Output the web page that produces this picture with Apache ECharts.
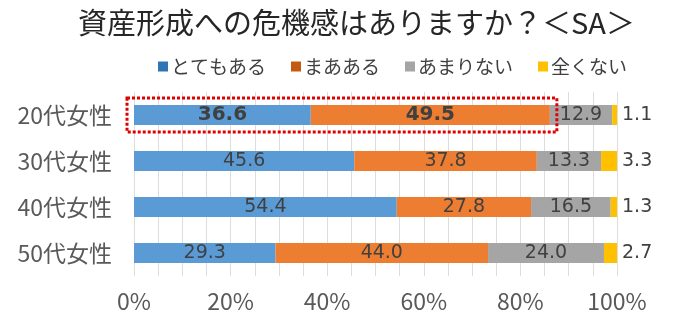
<!DOCTYPE html>
<html><head><meta charset="utf-8">
<script src="https://cdn.jsdelivr.net/npm/echarts@6/dist/echarts.min.js"></script>
<style>html,body{margin:0;padding:0;background:#fff}#c{width:680px;height:327px}</style>
</head><body><div id="c"></div>
<script>
const categories = ['20代女性', '30代女性', '40代女性', '50代女性'];
const seriesNames = ['とてもある', 'まあある', 'あまりない', '全くない'];
const veryMuch = [36.6, 45.6, 54.4, 29.3];
const somewhat = [49.5, 37.8, 27.8, 44.0];
const notMuch = [12.9, 13.3, 16.5, 24.0];
const notAtAll = [1.1, 3.3, 1.3, 2.7];
const tickLabels = ['0%', '20%', '40%', '60%', '80%', '100%'];

const font = '"Noto Sans CJK JP", "Noto Sans", sans-serif';
const numFont = '"DejaVu Sans", "Noto Sans", sans-serif';
const barColors = ['#5B9BD5', '#ED7D31', '#A5A5A5', '#FFC000'];
const legendColors = ['#2E75B6', '#C55A11', '#A5A5A5', '#FFC000'];
const values = [veryMuch, somewhat, notMuch, notAtAll];

const chart = echarts.init(document.getElementById('c'), null, {renderer: 'canvas'});

function labelFor(i) {
  return {
    show: true,
    position: i === 3 ? 'right' : 'inside',
    distance: 5,
    fontFamily: numFont,
    fontSize: 19,
    color: '#404040',
    formatter: p => p.value.toFixed(1)
  };
}

const series = seriesNames.map((name, i) => ({
  name: name,
  type: 'bar',
  stack: 'total',
  barWidth: 20,
  itemStyle: {color: barColors[i]},
  label: labelFor(i),
  data: values[i].map((v, j) => ({
    value: v,
    label: (j === 0 && i < 2) ? {fontWeight: 'bold', fontSize: 20} : {}
  }))
}));

chart.setOption({
  animation: false,
  title: {
    text: '資産形成への危機感はありますか？＜SA＞',
    left: 73, top: 3,
    textStyle: {fontFamily: font, fontSize: 29, fontWeight: 'normal', color: '#262626'}
  },
  legend: {
    top: 52, left: 153,
    itemWidth: 10, itemHeight: 10, itemGap: 25,
    icon: 'rect',
    textStyle: {fontFamily: font, fontSize: 19, color: '#404040', padding: [0, 0, 0, -2]},
    data: seriesNames.map((n, i) => ({name: n, itemStyle: {color: legendColors[i]}}))
  },
  grid: {left: 134, right: 63, top: 92, bottom: 51, containLabel: false},
  xAxis: {
    type: 'value', min: 0, max: 100, interval: 5,
    axisLine: {show: false}, axisTick: {show: false},
    splitLine: {show: true, lineStyle: {color: '#DDDDDD', width: 1}},
    axisLabel: {
      fontFamily: font, fontSize: 23, color: '#595959', margin: 14,
      formatter: v => (v % 20 === 0 ? tickLabels[v / 20] : '')
    }
  },
  yAxis: {
    type: 'category', inverse: true, data: categories,
    axisLine: {show: false}, axisTick: {show: false},
    axisLabel: {fontFamily: font, fontSize: 23, color: '#595959', margin: 22}
  },
  series: series
});

// Red dotted annotation around the first two segments of 20代女性
const p0 = chart.convertToPixel({gridIndex: 0}, [0, categories[0]]);
const p1 = chart.convertToPixel({gridIndex: 0}, [veryMuch[0] + somewhat[0], categories[0]]);
chart.setOption({
  graphic: [{
    type: 'rect',
    shape: {x: p0[0] - 7, y: p0[1] - 17, width: p1[0] - p0[0] + 14, height: 34},
    style: {fill: 'none', stroke: '#E00000', lineWidth: 3, lineDash: [3, 2]},
    z: 100
  }]
});
</script></body></html>
